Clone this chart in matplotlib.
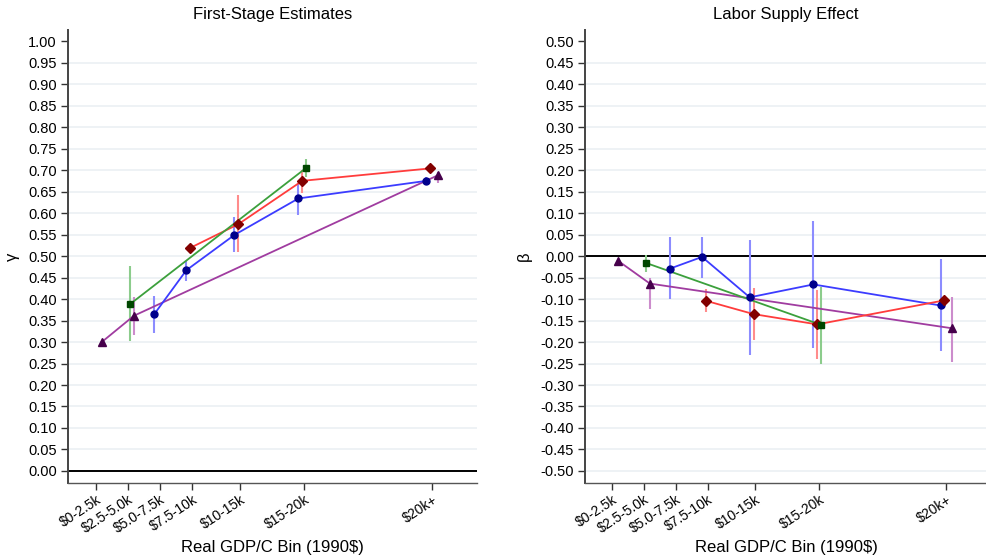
import numpy as np
import matplotlib
matplotlib.use("Agg")
import matplotlib.pyplot as plt

plt.rcParams['font.family'] = ['Liberation Sans', 'DejaVu Sans']

# ── DATA ─────────────────────────────────────────────────────────────────────
bins = [r"\$0-2.5k", r"\$2.5-5.0k", r"\$5.0-7.5k", r"\$7.5-10k",
        r"\$10-15k", r"\$15-20k", r"\$20k+"]
bin_mid = [1.25, 3.75, 6.25, 8.75, 12.5, 17.5, 27.5]   # $k, 20k+ placed at 27.5

nan = np.nan

# first stage (gamma)
g_blue    = [nan, nan, 0.365, 0.467, 0.549, 0.634, 0.675]
g_blue_lo = [nan, nan, 0.322, 0.443, 0.509, 0.595, 0.665]
g_blue_hi = [nan, nan, 0.408, 0.489, 0.590, 0.669, 0.683]

g_red    = [nan, nan, nan, 0.519, 0.574, 0.675, 0.704]
g_red_lo = [nan, nan, nan, 0.512, 0.509, 0.646, 0.698]
g_red_hi = [nan, nan, nan, 0.526, 0.642, 0.700, 0.710]

g_green    = [nan, 0.388, nan, nan, nan, 0.705, nan]
g_green_lo = [nan, 0.302, nan, nan, nan, 0.683, nan]
g_green_hi = [nan, 0.476, nan, nan, nan, 0.727, nan]

g_purple    = [0.300, 0.361, nan, nan, nan, nan, 0.688]
g_purple_lo = [0.297, 0.316, nan, nan, nan, nan, 0.670]
g_purple_hi = [0.303, 0.404, nan, nan, nan, nan, 0.696]

# labor supply (beta)
b_blue    = [nan, nan, -0.029, -0.002, -0.096, -0.066, -0.115]
b_blue_lo = [nan, nan, -0.100, -0.050, -0.230, -0.215, -0.222]
b_blue_hi = [nan, nan, 0.0435, 0.0435, 0.037, 0.082, -0.007]

b_red    = [nan, nan, nan, -0.104, -0.135, -0.159, -0.103]
b_red_lo = [nan, nan, nan, -0.131, -0.195, -0.240, -0.108]
b_red_hi = [nan, nan, nan, -0.077, -0.075, -0.079, -0.098]

b_green    = [nan, -0.016, nan, nan, nan, -0.160, nan]
b_green_lo = [nan, -0.036, nan, nan, nan, -0.250, nan]
b_green_hi = [nan, 0.002, nan, nan, nan, -0.073, nan]

b_purple    = [-0.011, -0.064, nan, nan, nan, nan, -0.168]
b_purple_lo = [-0.014, -0.122, nan, nan, nan, nan, -0.246]
b_purple_hi = [-0.008, -0.050, nan, nan, nan, nan, -0.095]

# ── STYLE ────────────────────────────────────────────────────────────────────
# (offset, line colour, marker colour, errbar colour, marker, size)
STYLES = {
    'blue':   (-0.45, '#3c3cff', '#00008c', '#8c8cff', 'o', 5.0),
    'red':    (-0.15, '#ff3c3c', '#820000', '#ff8c8c', 'D', 5.0),
    'green':  ( 0.15, '#3ca03c', '#004600', '#8ccc8c', 's', 5.0),
    'purple': ( 0.45, '#a03ca0', '#46004b', '#cc8ccc', '^', 6.0),
}
GRID_C = '#e9eff3'


def draw_series(ax, key, vals, lo, hi):
    off, lc, mc, ec, mk, ms = STYLES[key]
    x = np.array(bin_mid) + off
    v, l, h = np.array(vals), np.array(lo), np.array(hi)
    ok = ~np.isnan(v)
    ax.vlines(x[ok], l[ok], h[ok], color=ec, lw=1.5, zorder=3)
    ax.plot(x[ok], v[ok], color=lc, lw=1.3, zorder=4)
    ax.plot(x[ok], v[ok], ls='none', marker=mk, ms=ms, color=mc,
            markeredgecolor=mc, zorder=5)


def setup_axis(ax, yticks, ylim, xlim, title, ylabel):
    ax.set_xlim(*xlim)
    ax.set_ylim(*ylim)
    for y in yticks[:-1]:
        if abs(y) > 1e-9:
            ax.axhline(y, color=GRID_C, lw=1.1, zorder=1)
    ax.axhline(0, color='black', lw=1.4, zorder=2)
    ax.set_yticks(yticks)
    ax.set_yticklabels([f"{abs(t) if abs(t) < 1e-9 else t:.2f}" for t in yticks])
    ax.set_xticks(bin_mid)
    ax.set_xticklabels(bins, rotation=33, ha='right', rotation_mode='anchor')
    for s in ['top', 'right']:
        ax.spines[s].set_visible(False)
    ax.spines['left'].set_color('#444444')
    ax.spines['left'].set_linewidth(1.4)
    ax.spines['bottom'].set_color('#555555')
    ax.spines['bottom'].set_linewidth(1.0)
    ax.tick_params(axis='both', direction='out', length=5, width=1,
                   color='#333333', labelsize=10.5, pad=3)
    ax.tick_params(axis='x', labelsize=10, pad=2)
    ax.set_title(title, fontsize=12, pad=8)
    ax.set_xlabel('Real GDP/C Bin (1990$)', fontsize=12)
    ax.xaxis.set_label_coords(0.5, -0.126)
    ax.set_ylabel(ylabel, fontsize=12, labelpad=6)


fig = plt.figure(figsize=(9.87, 5.56), dpi=100)
ax1 = fig.add_axes([68 / 987, 73 / 556, 409 / 987, 453 / 556])
ax2 = fig.add_axes([585 / 987, 73 / 556, 402 / 987, 453 / 556])

setup_axis(ax1, np.round(np.arange(0, 1.001, 0.05), 2), (-0.028, 1.026),
           (-0.94, 31.0), 'First-Stage Estimates', 'γ')
setup_axis(ax2, np.round(np.arange(-0.5, 0.501, 0.05), 2), (-0.528, 0.526),
           (-0.9, 30.7), 'Labor Supply Effect', 'β')

draw_series(ax1, 'purple', g_purple, g_purple_lo, g_purple_hi)
draw_series(ax1, 'blue', g_blue, g_blue_lo, g_blue_hi)
draw_series(ax1, 'red', g_red, g_red_lo, g_red_hi)
draw_series(ax1, 'green', g_green, g_green_lo, g_green_hi)

draw_series(ax2, 'purple', b_purple, b_purple_lo, b_purple_hi)
draw_series(ax2, 'blue', b_blue, b_blue_lo, b_blue_hi)
draw_series(ax2, 'red', b_red, b_red_lo, b_red_hi)
draw_series(ax2, 'green', b_green, b_green_lo, b_green_hi)

fig.savefig('out.png', dpi=100)
